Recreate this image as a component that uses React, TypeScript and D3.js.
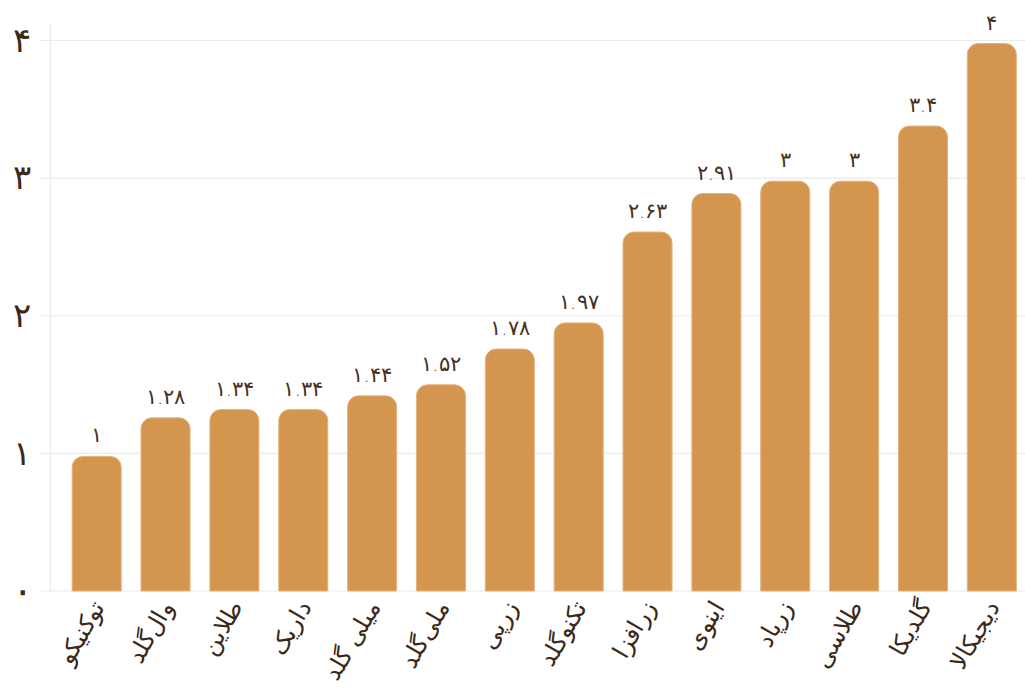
import React from "react";
import * as d3 from "d3";

const categories = [
  "توکنیکو",
  "وال‌گلد",
  "طلاین",
  "داریک",
  "میلی گلد",
  "ملی‌گلد",
  "زرپی",
  "تکنوگلد",
  "زرافزا",
  "اینوی",
  "زرپاد",
  "طلاسی",
  "گلدیکا",
  "دیجیکالا",
];
const values = [1, 1.28, 1.34, 1.34, 1.44, 1.52, 1.78, 1.97, 2.63, 2.91, 3, 3, 3.4, 4];
const yTicks = [0, 1, 2, 3, 4];

const W = 1025;
const H = 696;

const faDigits = "۰۱۲۳۴۵۶۷۸۹";
const toFa = (s: string) => s.replace(/[0-9]/g, (d) => faDigits[+d]);

const x = d3
  .scaleBand<string>()
  .domain(categories)
  .range([50, 1038.5])
  .paddingInner(0.288)
  .paddingOuter(0.322);
const y = d3.scaleLinear().domain([0, 4]).range([591, 40.5]);

function topRoundedBar(x0: number, y0: number, w: number, y1: number, r: number) {
  const p = d3.path();
  p.moveTo(x0, y1);
  p.lineTo(x0, y0 + r);
  p.arcTo(x0, y0, x0 + r, y0, r);
  p.lineTo(x0 + w - r, y0);
  p.arcTo(x0 + w, y0, x0 + w, y0 + r, r);
  p.lineTo(x0 + w, y1);
  p.closePath();
  return p.toString();
}

export default function App() {
  const font = "'DejaVu Sans', 'Noto Sans', sans-serif";
  return (
    <svg
      width={W}
      height={H}
      style={{ position: "absolute", left: 0, top: 0, background: "#fff", overflow: "hidden" }}
      fontFamily={font}
    >
      {/* gridlines */}
      {yTicks.map((t) => (
        <line key={"g" + t} x1={40} x2={W} y1={y(t)} y2={y(t)} stroke="#ebebeb" strokeWidth={1.2} />
      ))}
      <line x1={50.5} x2={50.5} y1={23} y2={y(0)} stroke="#ebebeb" strokeWidth={1.2} />
      {/* y tick labels */}
      {yTicks.map((t) => (
        <text
          key={"t" + t}
          x={22}
          y={y(t)}
          dy="0.05em"
          textAnchor="middle"
          dominantBaseline="middle"
          fontSize={t === 0 ? 40 : 34}
          fontWeight={200}
          fill="#3d2816"
        >
          {toFa(String(t))}
        </text>
      ))}
      {/* bars */}
      {categories.map((c, i) => {
        const bx = x(c)!;
        const bw = x.bandwidth();
        return (
          <path
            key={"b" + i}
            d={topRoundedBar(bx, y(values[i]) + 3, bw, y(0), 11)}
            fill="#d4964e"
            stroke="#e2b37c"
            strokeWidth={1}
          />
        );
      })}
      {/* value labels */}
      {categories.map((c, i) => (
        <text
          key={"v" + i}
          x={x(c)! + x.bandwidth() / 2}
          y={y(values[i]) - 11}
          textAnchor="middle"
          fontSize={21}
          fontWeight={200}
          fill="#4a3020"
        >
          {toFa(String(values[i]))}
        </text>
      ))}
      {/* category labels */}
      {categories.map((c, i) => {
        const cx = x(c)! + x.bandwidth() / 2 + 3;
        const cy = 603;
        return (
          <text
            key={"c" + i}
            transform={`translate(${cx},${cy}) rotate(-60)`}
            textAnchor="end"
            dominantBaseline="middle"
            fontSize={24}
            fontWeight={200}
            fill="#3a2818"
          >
            {c}
          </text>
        );
      })}
    </svg>
  );
}
